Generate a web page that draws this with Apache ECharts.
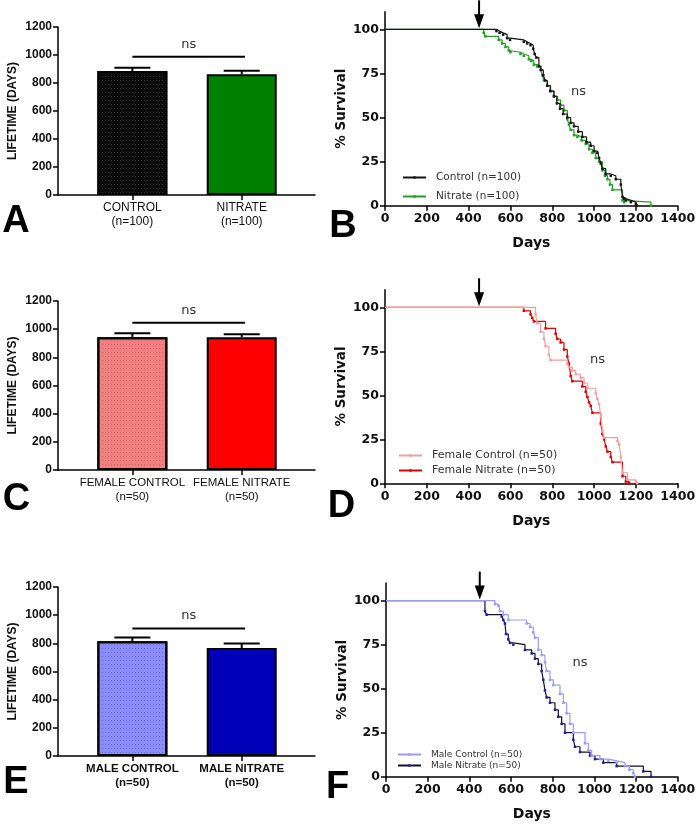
<!DOCTYPE html>
<html><head><meta charset="utf-8">
<script src="https://cdn.jsdelivr.net/npm/echarts@6/dist/echarts.min.js"></script>
<style>html,body{margin:0;padding:0;background:#fff}#c{width:700px;height:830px}</style>
</head><body><div id="c"></div>
<script>
// ---------- DATA ----------
// Bar panels (lifetime, days): category, mean, mean+SEM, ns bracket height
const catsA = ['CONTROL\n(n=100)', 'NITRATE\n(n=100)'];
const meanA = [886, 862];
const errA = [909, 888];
const nsA = 988;

const catsC = ['FEMALE CONTROL\n(n=50)', 'FEMALE NITRATE\n(n=50)'];
const meanC = [942, 942];
const errC = [971, 964];
const nsC = 1046;

const catsE = ['MALE CONTROL\n(n=50)', 'MALE NITRATE\n(n=50)'];
const meanE = [815, 767];
const errE = [841, 798];
const nsE = 905;

const barTicks = [0, 200, 400, 600, 800, 1000, 1200];
const survTicks = [0, 25, 50, 75, 100];
const dayTicks = [0, 200, 400, 600, 800, 1000, 1200, 1400];

// Survival curves (Kaplan-Meier): day of step, % survival after step
const ctrlB_days = [0,533,548,565,584,598,664,680,696,709,716,724,736,746,757,766,776,790,808,822,837,852,872,888,904,924,944,964,984,1000,1016,1024,1032,1040,1056,1080,1104,1128,1136,1144,1152,1176,1200,1205];
const ctrlB_surv = [100,99,98,97,95,94,93,92,91,89,86,84,79,77,74,71,68,65,62,58,55,52,50,47,45,42,39,36,34,31,30,27,24,21,18,17,15,12,5,4,3,2,1,0];
const nitB_days = [0,472,480,544,560,576,592,600,648,664,688,700,712,728,744,752,760,776,792,808,824,840,856,872,880,888,904,920,940,960,976,992,1008,1024,1040,1052,1064,1076,1088,1136,1144,1272];
const nitB_surv = [100,98,96,94,92,90,88,87,86,85,83,82,80,79,77,74,71,68,65,62,60,57,54,49,46,43,40,39,37,35,32,30,27,25,20,17,15,12,9,3,2,0];

const fctrl_days = [0,720,728,744,760,768,784,792,872,880,896,912,936,952,968,1008,1016,1024,1032,1040,1048,1112,1120,1128,1136,1160,1200,1205];
const fctrl_surv = [100,96,91,86,82,78,73,70,68,66,64,62,60,57,54,51,48,45,38,30,26,24,22,15,6,2,1,0];
const fnit_days = [0,664,696,704,712,768,816,824,840,856,872,880,888,896,944,960,968,976,984,992,1032,1040,1048,1056,1064,1080,1088,1136,1152,1168];
const fnit_surv = [100,98,96,94,92,88,85,82,80,76,72,68,61,58,55,52,49,46,44,40,34,28,25,21,18,15,12,4,1,0];

const mctrl_days = [0,523,540,547,563,587,675,691,707,715,731,747,763,771,787,803,835,851,867,883,899,955,971,987,1027,1067,1107,1147,1168,1187,1195];
const mctrl_surv = [100,98,97,94,92,89,87,85,82,79,72,69,65,60,55,52,47,42,36,30,25,19,15,12,10,9,8,6,4,2,0];
const mnit_days = [0,475,483,555,563,571,576,587,595,611,667,699,715,731,747,755,763,771,787,811,827,843,859,899,907,931,979,1003,1043,1107,1235,1272];
const mnit_surv = [100,94,92,91,89,87,81,78,76,75,72,70,67,64,60,55,49,45,42,38,34,30,25,21,17,14,12,10,8,6,3,0];

const arrowDay = 450;
const nsPosB = [926, 64.5];
const nsPosD = [1016, 70];
const nsPosF = [931, 64.5];

// ---------- STYLE ----------
const FONT_BAR = 'Liberation Sans, Arial, sans-serif';
const FONT_SURV = 'DejaVu Sans, sans-serif';

const grids = [
  {left: 58, top: 27, width: 257, height: 168},    // A
  {left: 385, top: 11.7, width: 292.7, height: 194}, // B
  {left: 58, top: 301, width: 257, height: 169},   // C
  {left: 385, top: 289.7, width: 292.7, height: 193.6}, // D
  {left: 58, top: 587, width: 257, height: 169},   // E
  {left: 386, top: 583, width: 291.7, height: 193.7} // F
];

const xAxes = [], yAxes = [], series = [], legends = [];
const plain = v => String(v);

function barPanel(g, cats, mean, err, nsY, colors, decals, catBold, catSize) {
  xAxes.push({
    type: 'value', gridIndex: g, min: 0.32, max: 2.67,
    splitLine: {show: false},
    axisLine: {onZero: false, lineStyle: {color: '#000', width: 1.5}},
    axisTick: {customValues: [1, 2], length: 5, lineStyle: {color: '#000', width: 1.5}},
    axisLabel: {customValues: [1, 2], formatter: v => cats[Math.round(v) - 1], margin: 6,
      fontFamily: FONT_BAR, fontSize: catSize, fontWeight: catBold ? 'bold' : 'normal', color: '#111', lineHeight: 14}
  });
  yAxes.push({
    type: 'value', gridIndex: g, min: 0, max: 1200, interval: 200,
    name: 'LIFETIME (DAYS)', nameLocation: 'middle', nameGap: 39, nameRotate: 90,
    nameTextStyle: {fontFamily: FONT_BAR, fontWeight: 'bold', fontSize: 12, color: '#111'},
    splitLine: {show: false},
    axisLine: {show: true, lineStyle: {color: '#000', width: 1.5}},
    axisTick: {show: true, customValues: barTicks, length: 5, lineStyle: {color: '#000', width: 1.5}},
    axisLabel: {customValues: barTicks, formatter: plain, fontFamily: FONT_BAR, fontWeight: 'bold', fontSize: 12, color: '#111', margin: 6}
  });
  const ai = xAxes.length - 1;
  series.push({
    type: 'bar', xAxisIndex: ai, yAxisIndex: ai, barWidth: 70, animation: false,
    data: mean.map((m, i) => ({value: [i + 1, m], itemStyle: {color: colors[i], borderColor: '#000', borderWidth: 2, decal: decals[i]}}))
  });
  series.push({
    type: 'custom', xAxisIndex: ai, yAxisIndex: ai, animation: false, z: 5, clip: false,
    data: mean.map((m, i) => [i + 1, m, err[i]]),
    renderItem: (params, api) => {
      const p0 = api.coord([api.value(0), api.value(1)]);
      const p1 = api.coord([api.value(0), api.value(2)]);
      return {type: 'group', children: [
        {type: 'line', shape: {x1: p0[0], y1: p0[1], x2: p1[0], y2: p1[1]}, style: {stroke: '#000', lineWidth: 2}},
        {type: 'line', shape: {x1: p1[0] - 18, y1: p1[1], x2: p1[0] + 18, y2: p1[1]}, style: {stroke: '#000', lineWidth: 2}}
      ]};
    }
  });
  series.push({
    type: 'custom', xAxisIndex: ai, yAxisIndex: ai, animation: false, z: 5, clip: false,
    data: [[1, 2.03, nsY]],
    renderItem: (params, api) => {
      const a = api.coord([api.value(0), api.value(2)]);
      const b = api.coord([api.value(1), api.value(2)]);
      return {type: 'group', children: [
        {type: 'line', shape: {x1: a[0], y1: a[1], x2: b[0], y2: b[1]}, style: {stroke: '#000', lineWidth: 2}},
        {type: 'text', x: (a[0] + b[0]) / 2, y: a[1] - 6, style: {text: 'ns', align: 'center', verticalAlign: 'bottom', font: '13px DejaVu Sans', fill: '#333'}}
      ]};
    }
  });
}

function survPanel(g, curves, legendPos, legendFont, legendGap, nsPos) {
  xAxes.push({
    type: 'value', gridIndex: g, min: 0, max: 1400, interval: 200,
    name: 'Days', nameLocation: 'middle', nameGap: 31,
    nameTextStyle: {fontFamily: FONT_SURV, fontWeight: 'bold', fontSize: 14, color: '#111'},
    splitLine: {show: false},
    axisLine: {onZero: false, lineStyle: {color: '#000', width: 1.5}},
    axisTick: {customValues: dayTicks, length: 5, lineStyle: {color: '#000', width: 1.5}},
    axisLabel: {customValues: dayTicks, formatter: plain, fontFamily: FONT_SURV, fontWeight: 'bold', fontSize: 12.5, color: '#111', margin: 7}
  });
  yAxes.push({
    type: 'value', gridIndex: g, min: 0, max: 110,
    name: '% Survival', nameLocation: 'middle', nameGap: 37, nameRotate: 90,
    nameTextStyle: {fontFamily: FONT_SURV, fontWeight: 'bold', fontSize: 13.5, color: '#111'},
    splitLine: {show: false},
    axisLine: {show: true, lineStyle: {color: '#000', width: 1.5}},
    axisTick: {show: true, customValues: survTicks, length: 5, lineStyle: {color: '#000', width: 1.5}},
    axisLabel: {customValues: survTicks, formatter: plain, fontFamily: FONT_SURV, fontWeight: 'bold', fontSize: 12.5, color: '#111', margin: 6}
  });
  const ai = xAxes.length - 1;
  curves.forEach(c => {
    series.push({
      type: 'line', name: c.name, xAxisIndex: ai, yAxisIndex: ai, step: 'end', animation: false,
      symbol: 'rect', symbolSize: 2.5, z: c.z,
      data: c.days.map((d, i) => i === 0 ? {value: [d, c.surv[i]], symbol: 'none'} : [d, c.surv[i]]),
      lineStyle: {color: c.line, width: 1.2},
      itemStyle: {color: c.mark}
    });
  });
  series.push({
    type: 'custom', xAxisIndex: ai, yAxisIndex: ai, animation: false, z: 6, clip: false,
    data: [[arrowDay, 100]],
    renderItem: (params, api) => {
      const p = api.coord([api.value(0), api.value(1)]);
      const t = p[1] - 1;
      return {type: 'group', children: [
        {type: 'line', shape: {x1: p[0], y1: t - 28, x2: p[0], y2: t - 12}, style: {stroke: '#000', lineWidth: 2}},
        {type: 'polygon', shape: {points: [[p[0] - 5, t - 14], [p[0] + 5, t - 14], [p[0], t]]}, style: {fill: '#000'}}
      ]};
    }
  });
  series.push({
    type: 'custom', xAxisIndex: ai, yAxisIndex: ai, animation: false, z: 6, clip: false,
    data: [nsPos],
    renderItem: (params, api) => {
      const p = api.coord([api.value(0), api.value(1)]);
      return {type: 'text', x: p[0], y: p[1], style: {text: 'ns', align: 'center', verticalAlign: 'middle', font: '13px DejaVu Sans', fill: '#333'}};
    }
  });
  legends.push({
    data: curves.map(c => c.name).reverse(), orient: 'vertical', left: legendPos[0], top: legendPos[1],
    itemWidth: 23, itemHeight: 3, itemGap: legendGap,
    textStyle: {fontFamily: FONT_SURV, fontSize: legendFont, color: '#333', padding: [0, 0, 0, 5]}
  });
}

barPanel(0, catsA, meanA, errA, nsA, ['#0b0b0b', '#008000'],
  [{symbol: 'rect', symbolSize: 1, dashArrayX: [1, 2], dashArrayY: [1, 3], color: 'rgba(70,70,70,0.6)'}, null], false, 12);
survPanel(1, [
  {name: 'Nitrate (n=100)', days: nitB_days, surv: nitB_surv, line: '#2a9a2a', mark: '#2a9a2a', z: 2},
  {name: 'Control (n=100)', days: ctrlB_days, surv: ctrlB_surv, line: '#151515', mark: '#151515', z: 3}
], [397, 167], 10.5, 8, nsPosB);
barPanel(2, catsC, meanC, errC, nsC, ['#F08080', '#FF0000'],
  [{symbol: 'rect', symbolSize: 1, dashArrayX: [1, 2], dashArrayY: [1, 3], color: 'rgba(190,70,70,0.45)'}, null], false, 11.5);
survPanel(3, [
  {name: 'Female Nitrate (n=50)', days: fnit_days, surv: fnit_surv, line: '#dd0000', mark: '#dd0000', z: 2},
  {name: 'Female Control (n=50)', days: fctrl_days, surv: fctrl_surv, line: '#f2a0a0', mark: '#f2a0a0', z: 3}
], [393, 445], 11, 4, nsPosD);
barPanel(4, catsE, meanE, errE, nsE, ['#8C8CF6', '#0000B8'],
  [{symbol: 'rect', symbolSize: 1, dashArrayX: [1, 2], dashArrayY: [1, 3], color: 'rgba(70,70,200,0.45)'}, null], true, 11.5);
survPanel(5, [
  {name: 'Male Nitrate (n=50)', days: mnit_days, surv: mnit_surv, line: '#10102a', mark: '#1a1ab0', z: 2},
  {name: 'Male Control (n=50)', days: mctrl_days, surv: mctrl_surv, line: '#9c9cf5', mark: '#9c9cf5', z: 3}
], [392, 745], 9, 2, nsPosF);

const letters = [['A', 16, 222], ['B', 343, 227], ['C', 16.5, 500], ['D', 341.5, 507], ['E', 16, 783], ['F', 337.5, 788]];

const chart = echarts.init(document.getElementById('c'), null, {renderer: 'canvas'});
chart.setOption({
  backgroundColor: '#fff',
  animation: false,
  grid: grids,
  xAxis: xAxes,
  yAxis: yAxes,
  legend: legends,
  series: series,
  graphic: letters.map(l => ({
    type: 'text', x: l[1], y: l[2], z: 10,
    style: {text: l[0], align: 'center', verticalAlign: 'middle', font: 'bold 38px Liberation Sans', fill: '#000'}
  }))
});
</script></body></html>
